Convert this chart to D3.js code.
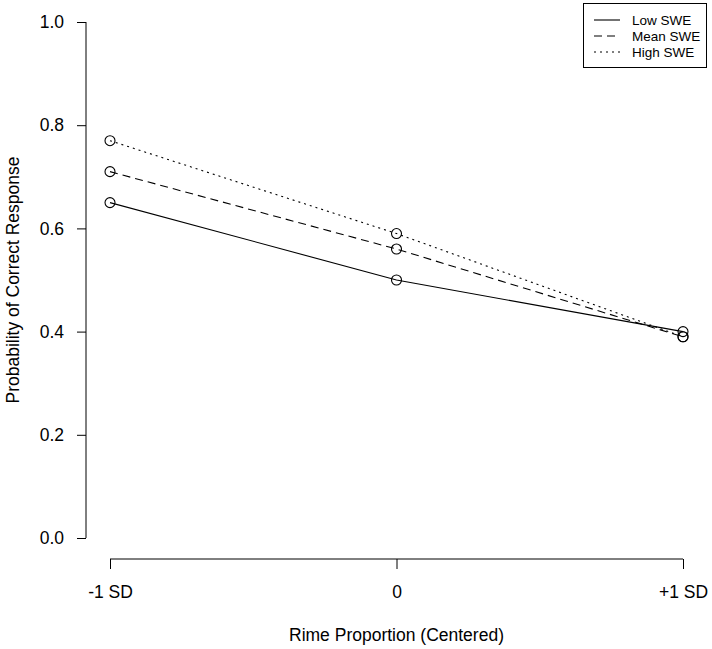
<!DOCTYPE html>
<html><head><meta charset="utf-8">
<script src="https://cdn.jsdelivr.net/npm/d3@7"></script>
<style>body{margin:0;background:#fff}svg{display:block}text{font-family:"Liberation Sans",Arial,sans-serif;fill:#000}</style>
</head><body>
<script>
const xPositions = [-1, 0, 1];
const xTickLabels = ["-1 SD", "0", "+1 SD"];
const yTicks = [0, 0.2, 0.4, 0.6, 0.8, 1.0];
const seriesNames = ["Low SWE", "Mean SWE", "High SWE"];
const lowSWE = [0.65, 0.50, 0.40];
const meanSWE = [0.71, 0.56, 0.39];
const highSWE = [0.77, 0.59, 0.39];

const W = 712, H = 649;
const svg = d3.select("body").append("svg").attr("width", W).attr("height", H);
const x = d3.scaleLinear().domain([-1, 1]).range([110, 683]);
const y = d3.scaleLinear().domain([0, 1]).range([538, 22]);
const fs = 17.5;

// Y axis
const yAxis = svg.append("g").attr("transform", "translate(86,0)")
  .call(d3.axisLeft(y).tickValues(yTicks).tickFormat(d3.format(".1f")).tickSize(9).tickPadding(13));
yAxis.select(".domain").attr("d", `M0,${y(0)}V${y(1)}`);
// X axis
const xAxis = svg.append("g").attr("transform", "translate(0,559)")
  .call(d3.axisBottom(x).tickValues(xPositions).tickFormat((d, i) => xTickLabels[i]).tickSize(10).tickPadding(17));
xAxis.select(".domain").attr("d", `M${x(-1)},0H${x(1)}`);
svg.selectAll(".tick text").attr("font-size", fs).attr("font-family", "Liberation Sans, Arial, sans-serif").attr("fill", "#000");
svg.selectAll(".domain, .tick line").attr("stroke", "#000").attr("stroke-width", 1);

// Titles
svg.append("text").attr("x", (x(-1) + x(1)) / 2).attr("y", 641).attr("text-anchor", "middle").attr("font-size", fs).text("Rime Proportion (Centered)");
svg.append("text").attr("transform", `translate(19,${(y(0) + y(1)) / 2}) rotate(-90)`).attr("text-anchor", "middle").attr("font-size", fs).text("Probability of Correct Response");

const series = [
  { name: seriesNames[0], values: lowSWE, dash: null },
  { name: seriesNames[1], values: meanSWE, dash: "8,5" },
  { name: seriesNames[2], values: highSWE, dash: "2,4" }
];
const line = d3.line().x((d, i) => x(xPositions[i])).y(d => y(d));
series.forEach(s => {
  svg.append("path").attr("d", line(s.values)).attr("fill", "none").attr("stroke", "#000").attr("stroke-width", 1.1)
    .attr("stroke-dasharray", s.dash);
  svg.selectAll(null).data(s.values).enter().append("circle")
    .attr("cx", (d, i) => x(xPositions[i])).attr("cy", d => y(d)).attr("r", 5)
    .attr("fill", "none").attr("stroke", "#000").attr("stroke-width", 1.1);
});

// Legend
const lg = svg.append("g");
lg.append("rect").attr("x", 583.5).attr("y", 3.5).attr("width", 123).attr("height", 64).attr("fill", "#fff").attr("stroke", "#000");
series.forEach((s, i) => {
  const yy = 20 + i * 16;
  lg.append("line").attr("x1", 594).attr("x2", 620).attr("y1", yy).attr("y2", yy).attr("stroke", "#000").attr("stroke-width", 1.1).attr("stroke-dasharray", s.dash);
  lg.append("text").attr("x", 632).attr("y", yy + 5).attr("font-size", 13.5).text(s.name);
});
</script>
</body></html>
